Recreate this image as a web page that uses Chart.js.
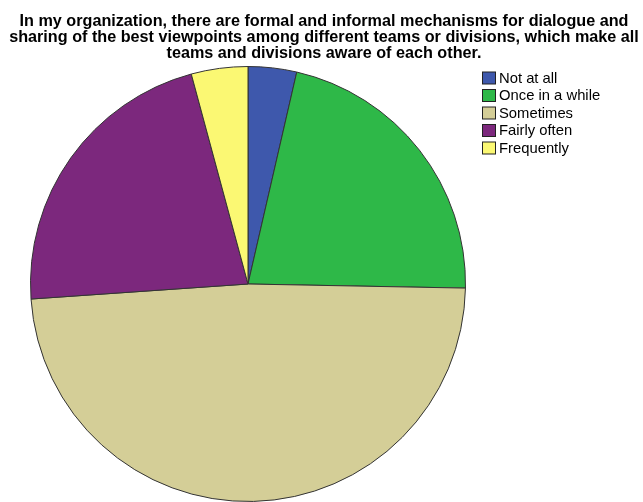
<!DOCTYPE html>
<html>
<head>
<meta charset="utf-8">
<script src="https://cdn.jsdelivr.net/npm/chart.js@4"></script>
<style>
html,body{margin:0;padding:0;background:#fff;}
#wrap{position:relative;width:643px;height:502px;}
</style>
</head>
<body>
<div id="wrap"><canvas id="c" width="643" height="502"></canvas></div>
<script>
const titleLines = [
  "In my organization, there are formal and informal mechanisms for dialogue and",
  "sharing of the best viewpoints among different teams or divisions, which make all",
  "teams and divisions aware of each other."
];
const categories = ["Not at all", "Once in a while", "Sometimes", "Fairly often", "Frequently"];
const percentValues = [3.6, 21.7, 48.6, 21.9, 4.2];
const sliceColors = ["#3E58AC", "#2EB848", "#D4CE97", "#7C287D", "#FBF873"];

const overlay = {
  id: 'overlay',
  afterDraw(chart) {
    const ctx = chart.ctx;
    ctx.save();
    ctx.fillStyle = '#000';
    ctx.font = 'bold 16.2px "Liberation Sans", Arial, sans-serif';
    ctx.textAlign = 'center';
    ctx.textBaseline = 'alphabetic';
    titleLines.forEach((t, i) => ctx.fillText(t, 324, 25.5 + i * 16.3));
    // legend
    ctx.font = '14.8px "Liberation Sans", Arial, sans-serif';
    ctx.textAlign = 'left';
    ctx.textBaseline = 'middle';
    chart.data.labels.forEach((lab, i) => {
      const y = 78 + i * 17.5;
      ctx.fillStyle = chart.data.datasets[0].backgroundColor[i];
      ctx.fillRect(482.5, y - 6, 13, 12);
      ctx.strokeStyle = '#222';
      ctx.lineWidth = 1;
      ctx.strokeRect(482.5, y - 6, 13, 12);
      ctx.fillStyle = '#000';
      ctx.fillText(lab, 499, y + 0.5);
    });
    ctx.restore();
  }
};

new Chart(document.getElementById('c'), {
  type: 'pie',
  data: {
    labels: categories,
    datasets: [{
      data: percentValues,
      backgroundColor: sliceColors,
      borderColor: '#333',
      borderWidth: 1
    }]
  },
  options: {
    responsive: false,
    animation: false,
    layout: { padding: { left: 30, right: 177, top: 66, bottom: 0 } },
    plugins: { legend: { display: false }, title: { display: false }, tooltip: { enabled: false } }
  },
  plugins: [overlay]
});
</script>
</body>
</html>
